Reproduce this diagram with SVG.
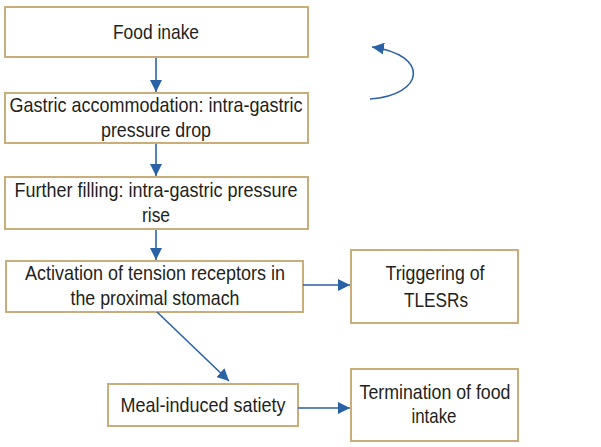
<svg xmlns="http://www.w3.org/2000/svg" width="601" height="447" viewBox="0 0 601 447">
<defs>
<style>
.box{fill:#fff;stroke:#c9ad7a;stroke-width:2}
.t{font-family:"Liberation Sans",Arial,sans-serif;font-size:21px;fill:#231f20;text-anchor:middle}
.c{stroke:#2a62a6;stroke-width:1.6;fill:none}
</style>
<marker id="ah" viewBox="0 0 12 12" refX="12" refY="6" markerWidth="12" markerHeight="12" markerUnits="userSpaceOnUse" orient="auto">
<path d="M0,0 L12,6 L0,12 z" fill="#2a62a6"/>
</marker>
</defs>
<rect width="601" height="447" fill="#fff"/>
<g id="n1"><rect class="box" x="5" y="7" width="303" height="50"/><text class="t" x="156" y="39" textLength="86" lengthAdjust="spacingAndGlyphs">Food inake</text></g>
<g id="n2"><rect class="box" x="5" y="93" width="303" height="50"/><text class="t" x="156" y="112" textLength="293" lengthAdjust="spacingAndGlyphs">Gastric accommodation: intra-gastric</text><text class="t" x="156" y="137" textLength="110" lengthAdjust="spacingAndGlyphs">pressure drop</text></g>
<g id="n3"><rect class="box" x="5" y="177" width="303" height="52"/><text class="t" x="156" y="197" textLength="283" lengthAdjust="spacingAndGlyphs">Further filling: intra-gastric pressure</text><text class="t" x="156" y="222" textLength="28" lengthAdjust="spacingAndGlyphs">rise</text></g>
<g id="n4"><rect class="box" x="6" y="261" width="297" height="51"/><text class="t" x="155" y="280" textLength="260" lengthAdjust="spacingAndGlyphs">Activation of tension receptors in</text><text class="t" x="155" y="305" textLength="169" lengthAdjust="spacingAndGlyphs">the proximal stomach</text></g>
<g id="n5"><rect class="box" x="351" y="250" width="167" height="73"/><text class="t" x="435" y="280" textLength="99" lengthAdjust="spacingAndGlyphs">Triggering of</text><text class="t" x="436" y="307" textLength="64" lengthAdjust="spacingAndGlyphs">TLESRs</text></g>
<g id="n6"><rect class="box" x="108" y="384" width="190" height="42"/><text class="t" x="203" y="412" textLength="165" lengthAdjust="spacingAndGlyphs">Meal-induced satiety</text></g>
<g id="n7"><rect class="box" x="351" y="369" width="167" height="72"/><text class="t" x="435" y="399" textLength="151" lengthAdjust="spacingAndGlyphs">Termination of food</text><text class="t" x="434" y="423" textLength="45" lengthAdjust="spacingAndGlyphs">intake</text></g>
<g id="connectors">
<path class="c" d="M156,58 V92" marker-end="url(#ah)"/>
<path class="c" d="M156,144 V176" marker-end="url(#ah)"/>
<path class="c" d="M156,230 V260" marker-end="url(#ah)"/>
<path class="c" d="M303,285 H350" marker-end="url(#ah)"/>
<path class="c" d="M157,312 L229,381" marker-end="url(#ah)"/>
<path class="c" d="M298,408 H350" marker-end="url(#ah)"/>
<path class="c" d="M370,99 C425,95 430,55 372,47" marker-end="url(#ah)"/>
</g>
</svg>
